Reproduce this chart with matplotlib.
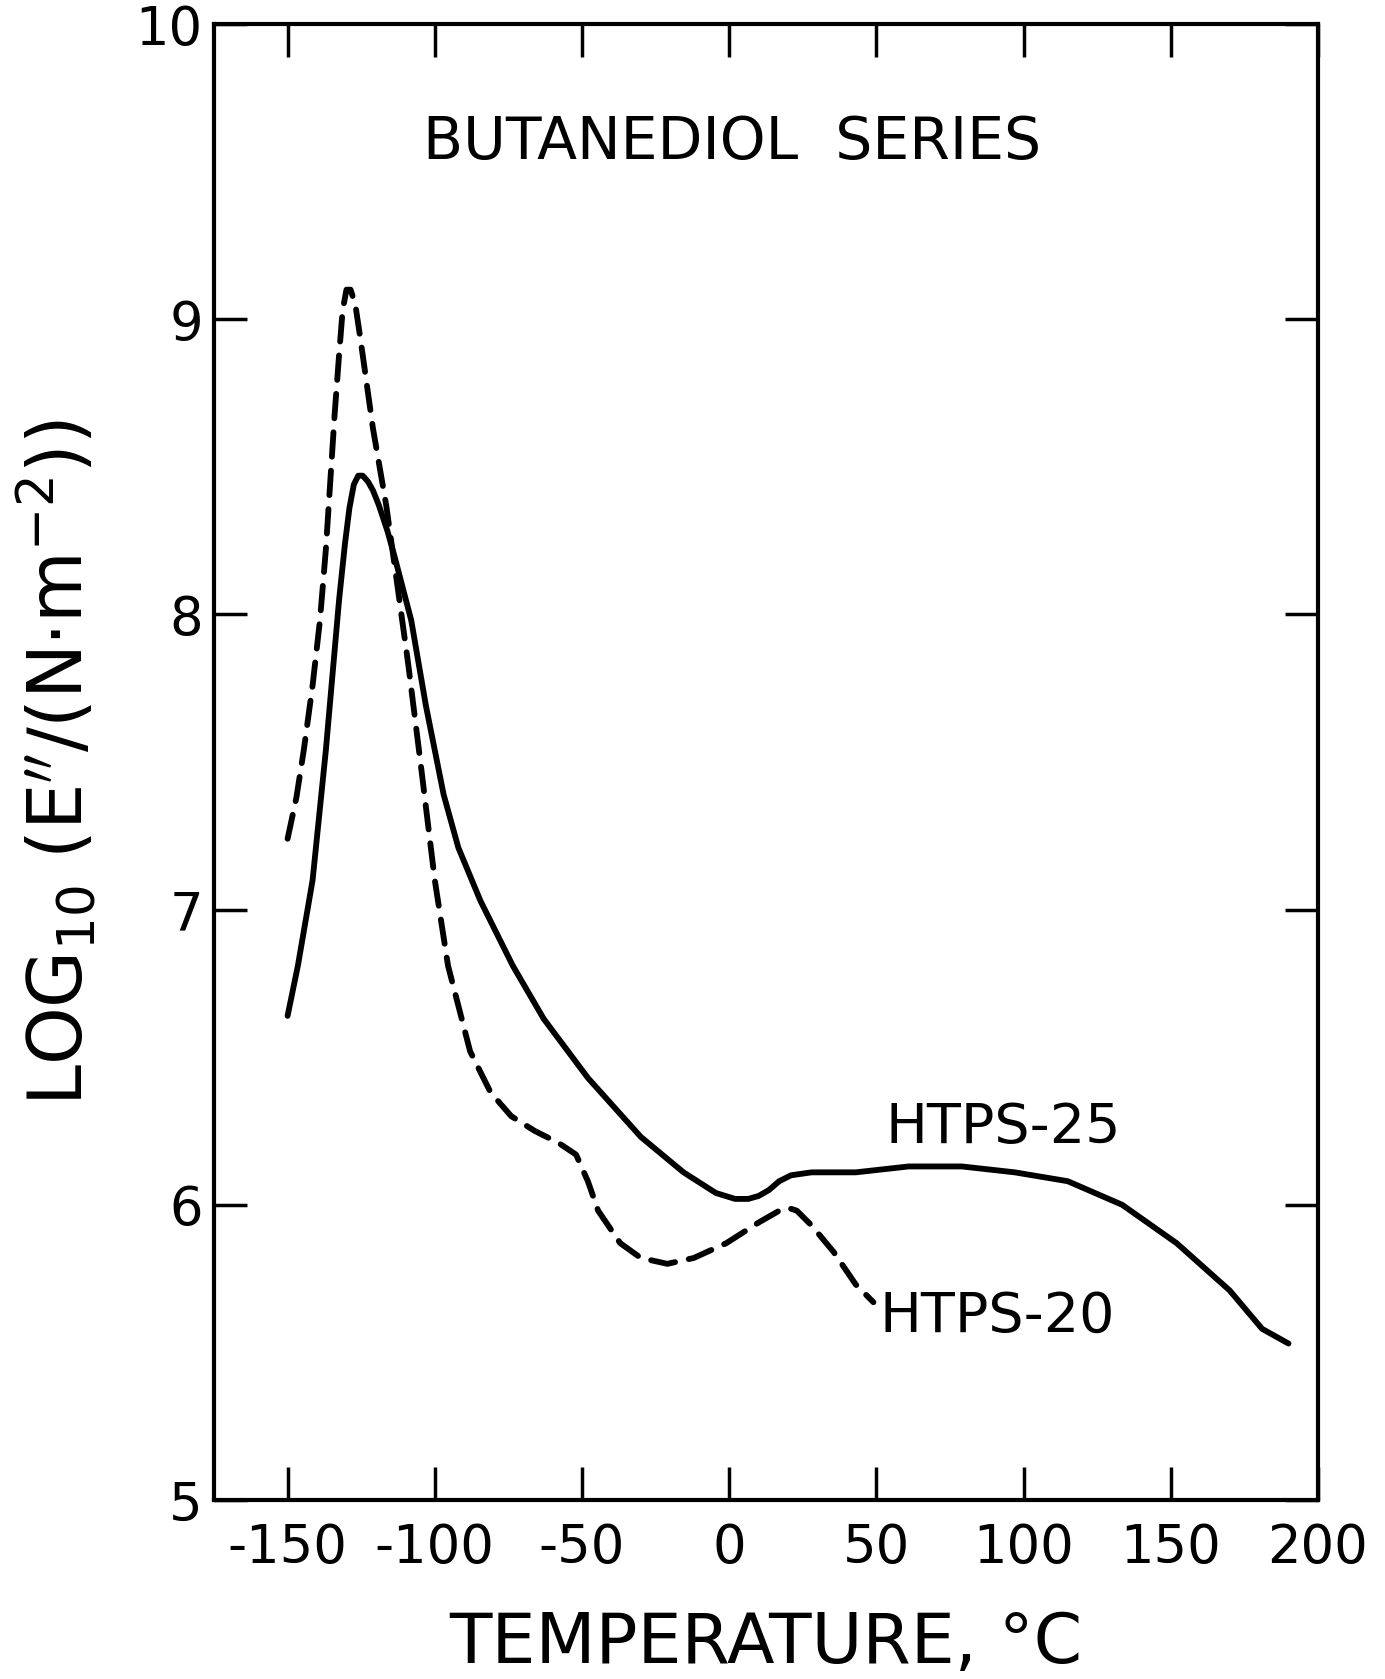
import matplotlib
matplotlib.use("Agg")
import matplotlib.pyplot as plt

# HTPS-20 (dashed)
t20 = [-150, -147, -144.5, -141.5, -139, -137, -135.5, -134, -132.5, -131.3, -130, -128.6,
       -127, -125.8, -124.5, -121, -116.5,
       -113, -109, -104.5, -100, -95.5, -88, -81, -74, -66, -58, -52, -48, -44.5, -37,
       -30, -21, -12, -1, 10, 17, 20, 23, 28, 35.5, 43, 49]
v20 = [7.24, 7.38, 7.54, 7.76, 7.98, 8.22, 8.45, 8.68, 8.88, 9.03, 9.10, 9.10,
       9.05, 8.97, 8.88, 8.63, 8.37,
       8.12, 7.83, 7.47, 7.10, 6.81, 6.52, 6.38, 6.30, 6.25, 6.21, 6.17, 6.08, 5.98, 5.87,
       5.82, 5.80, 5.82, 5.87, 5.94, 5.98, 5.99, 5.98, 5.93, 5.84, 5.73, 5.67]

# HTPS-25 (solid)
t25 = [-150, -146.5, -141.5, -137, -132.5, -130.5, -129, -127.5, -126, -124.5, -122.7, -121,
       -119, -116, -113.5, -108, -103,
       -97, -92, -84.5, -73.5, -63, -48, -30, -15.5, -4.5, 2, 6.5, 10, 13.5, 17, 21, 28, 43, 61, 79,
       97, 115, 133.5, 152, 170, 181, 190]
v25 = [6.64, 6.81, 7.10, 7.54, 8.05, 8.24, 8.36, 8.44, 8.47, 8.47, 8.45, 8.42,
       8.37, 8.28, 8.19, 7.98, 7.69,
       7.39, 7.21, 7.03, 6.81, 6.63, 6.43, 6.23, 6.11, 6.04, 6.02, 6.02, 6.03, 6.05, 6.08, 6.10, 6.11, 6.11, 6.13, 6.13,
       6.11, 6.08, 6.00, 5.87, 5.71, 5.58, 5.53]

xticks = [-150, -100, -50, 0, 50, 100, 150, 200]
xticklabels = ["-150", "-100", "-50", "0", "50", "100", "150", "200"]
yticks = [5, 6, 7, 8, 9, 10]
yticklabels = ["5", "6", "7", "8", "9", "10"]

plt.rcParams['font.family'] = ['DejaVu Sans']
fig = plt.figure(figsize=(13.85, 16.79), dpi=100)
ax = fig.add_axes([0.1545, 0.1066, 0.7971, 0.8791])

ax.plot(t25, v25, color='black', lw=4.2, solid_joinstyle='round', solid_capstyle='round')
ax.plot(t20, v20, color='black', lw=4.2, dashes=(4.2, 2.4), dash_capstyle='round',
        dash_joinstyle='round')

ax.set_xlim(-175, 200)
ax.set_ylim(5, 10)
ax.set_xticks(xticks)
ax.set_xticklabels(xticklabels)
ax.set_yticks(yticks)
ax.set_yticklabels(yticklabels)
ax.tick_params(direction='in', top=True, right=True, length=24, width=2.5,
               labelsize=38)
ax.tick_params(axis='x', pad=16)
ax.tick_params(axis='y', pad=8)
for s in ax.spines.values():
    s.set_linewidth(3)

ax.text(1, 9.6, "BUTANEDIOL  SERIES", fontsize=42, ha='center', va='center')
ax.text(53, 6.26, "HTPS-25", fontsize=40, ha='left', va='center')
ax.text(51, 5.62, "HTPS-20", fontsize=40, ha='left', va='center')

ax.set_xlabel("TEMPERATURE, °C", fontsize=50, labelpad=26)
ax.set_ylabel(r"LOG$_{10}$ (E$''$/(N·m$^{-2}$))", fontsize=53, labelpad=26)

fig.savefig("out.png", dpi=100)
